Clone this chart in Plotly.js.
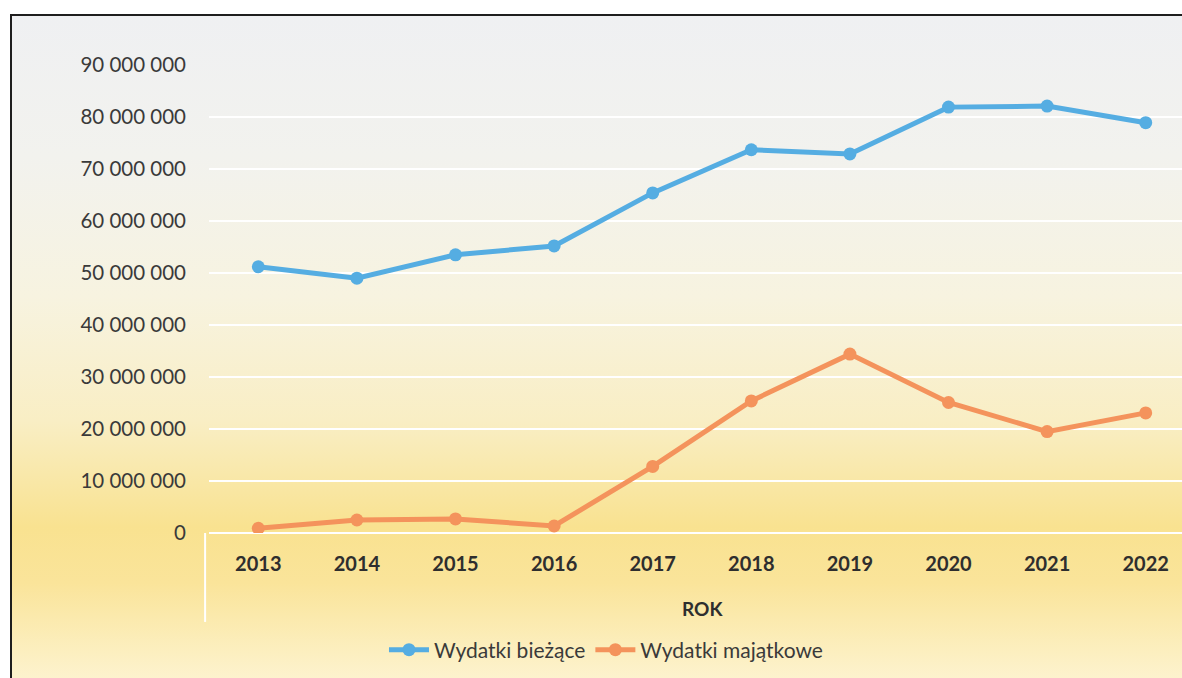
<!DOCTYPE html>
<html>
<head>
<meta charset="utf-8">
<script src="https://cdn.plot.ly/plotly-3.0.1.min.js"></script>
<style>
  html, body { margin: 0; padding: 0; background: #ffffff; overflow: hidden; }
  #frame {
    position: absolute; left: 10px; top: 14px; width: 1200px; height: 700px;
    border-left: 2px solid #1e1e1e; border-top: 2px solid #1e1e1e;
    background: linear-gradient(to bottom,
      #eff0f2 0%, #f2f2ee 20%, #f7f3e0 40%, #f9eec4 58%,
      #f9e290 73%, #fae49a 81%, #fcefc0 91%, #fef8e2 100%);
  }
  #chart { position: absolute; left: 0; top: 0; width: 1182px; height: 678px; }
</style>
</head>
<body>
<div id="frame"></div>
<div id="chart"></div>
<script>
const years = ['2013','2014','2015','2016','2017','2018','2019','2020','2021','2022'];
const wydatkiBiezace = [51200000, 49000000, 53500000, 55200000, 65400000, 73700000, 72900000, 81900000, 82100000, 78900000];
const wydatkiMajatkowe = [900000, 2500000, 2700000, 1350000, 12800000, 25400000, 34400000, 25100000, 19500000, 23100000];
const yTickVals = [0, 10000000, 20000000, 30000000, 40000000, 50000000, 60000000, 70000000, 80000000, 90000000];
const yTickText = ['0','10 000 000','20 000 000','30 000 000','40 000 000','50 000 000','60 000 000','70 000 000','80 000 000','90 000 000'];
const seriesNames = ['Wydatki bieżące', 'Wydatki majątkowe'];
const xTitle = 'ROK';

const traces = [
  {
    x: years, y: wydatkiBiezace, name: seriesNames[0], type: 'scatter', mode: 'lines+markers',
    line: {color: '#55ade2', width: 5}, marker: {color: '#55ade2', size: 13}
  },
  {
    x: years, y: wydatkiMajatkowe, name: seriesNames[1], type: 'scatter', mode: 'lines+markers',
    line: {color: '#f4935c', width: 5}, marker: {color: '#f4935c', size: 13}
  }
];

const layout = {
  width: 1182, height: 678,
  margin: {l: 209, r: 0, t: 65, b: 145, pad: 0},
  paper_bgcolor: 'rgba(0,0,0,0)',
  plot_bgcolor: 'rgba(0,0,0,0)',
  font: {family: 'Lato, "Open Sans", sans-serif', color: '#3a3a3a'},
  showlegend: true,
  legend: {
    orientation: 'h', x: 0.408, xanchor: 'center', y: -0.25, yanchor: 'middle',
    font: {size: 21, color: '#3a3a3a'}, bgcolor: 'rgba(0,0,0,0)', itemwidth: 40
  },
  xaxis: {
    type: 'category', range: [-0.5, 9.368],
    showgrid: false, zeroline: false, showline: false, ticks: '',
    tickfont: {size: 20, color: '#2e2e2e', family: 'Lato, sans-serif', weight: 'bold'},
    ticklabelstandoff: 17
  },
  yaxis: {
    range: [0, 90000000], tickvals: yTickVals, ticktext: yTickText,
    showgrid: true, gridcolor: '#ffffff', gridwidth: 2,
    zeroline: true, zerolinecolor: '#ffffff', zerolinewidth: 2,
    showline: false, ticks: '',
    tickfont: {size: 20.5, color: '#3a3a3a'},
    ticklabelstandoff: 22
  },
  annotations: [
    {text: xTitle, xref: 'x', x: 4.5, yref: 'paper', y: -0.162, yanchor: 'middle',
     showarrow: false, font: {size: 19, color: '#2e2e2e', weight: 'bold'}}
  ],
  shapes: [
    {type: 'line', xref: 'paper', yref: 'paper', x0: -0.004, x1: -0.004, y0: 0, y1: -0.19,
     line: {color: '#ffffff', width: 2}}
  ]
};

Plotly.newPlot('chart', traces, layout, {displayModeBar: false, staticPlot: true});
</script>
</body>
</html>
